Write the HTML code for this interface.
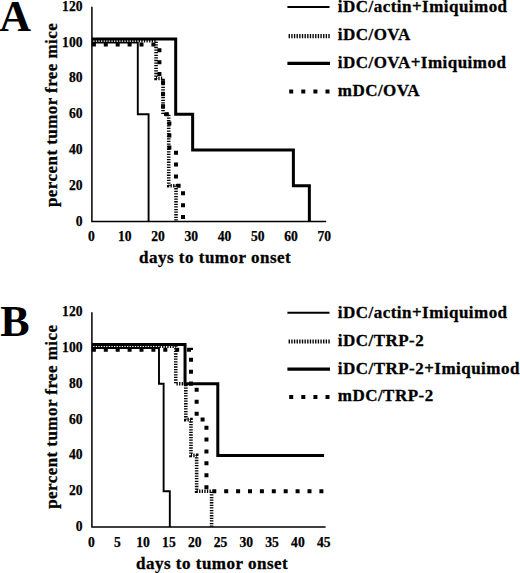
<!DOCTYPE html>
<html><head><meta charset="utf-8"><style>
html,body{margin:0;padding:0;background:#fff;}
svg{display:block;}
.t{font-family:"Liberation Serif",serif;font-weight:bold;font-size:13.6px;fill:#000;stroke:#000;stroke-width:0.25px;}
.m{font-family:"Liberation Serif",serif;font-weight:bold;font-size:17px;letter-spacing:0.5px;fill:#000;stroke:#000;stroke-width:0.3px;}
.L{font-family:"Liberation Serif",serif;font-weight:bold;font-size:44px;fill:#000;}
</style></head><body>
<svg width="520" height="573" viewBox="0 0 520 573">
<rect width="520" height="573" fill="#fff"/>
<path d="M91.90,6.80 L91.90,221.60 L326.15,221.60" fill="none" stroke="#000" stroke-width="1.5"/>
<path d="M91.90,40.81 L156.07,40.81 L156.07,78.40 L163.06,78.40 L163.06,114.20 L168.71,114.20 L168.71,185.80 L176.02,185.80 L176.02,221.60" fill="none" stroke="#000" stroke-width="3.6" stroke-dasharray="1.3 1.3"/>
<path d="M91.90,42.60 L137.79,42.60 L137.79,114.20 L148.59,114.20 L148.59,221.60" fill="none" stroke="#000" stroke-width="1.9"/>
<path d="M91.90,39.02 L175.69,39.02 L175.69,114.20 L192.65,114.20 L192.65,150.00 L293.39,150.00 L293.39,185.80 L309.36,185.80 L309.36,221.60" fill="none" stroke="#000" stroke-width="3"/>
<path d="M91.90,44.39 L159.40,44.39 L159.40,78.40 L163.06,78.40 L163.06,114.20 L169.37,114.20 L169.37,150.00 L176.02,150.00 L176.02,185.80 L183.00,185.80 L183.00,221.60" fill="none" stroke="#000" stroke-width="4" stroke-dasharray="4 7.9"/>
<text x="82.5" y="225.50" text-anchor="end" class="t">0</text>
<text x="82.5" y="189.70" text-anchor="end" class="t">20</text>
<text x="82.5" y="153.90" text-anchor="end" class="t">40</text>
<text x="82.5" y="118.10" text-anchor="end" class="t">60</text>
<text x="82.5" y="82.30" text-anchor="end" class="t">80</text>
<text x="82.5" y="46.50" text-anchor="end" class="t">100</text>
<text x="82.5" y="10.70" text-anchor="end" class="t">120</text>
<text x="91.50" y="241.30" text-anchor="middle" class="t">0</text>
<text x="124.75" y="241.30" text-anchor="middle" class="t">10</text>
<text x="158.00" y="241.30" text-anchor="middle" class="t">20</text>
<text x="191.25" y="241.30" text-anchor="middle" class="t">30</text>
<text x="224.50" y="241.30" text-anchor="middle" class="t">40</text>
<text x="257.75" y="241.30" text-anchor="middle" class="t">50</text>
<text x="291.00" y="241.30" text-anchor="middle" class="t">60</text>
<text x="324.25" y="241.30" text-anchor="middle" class="t">70</text>
<text transform="translate(56.8,114.90) rotate(-90)" text-anchor="middle" class="m" style="letter-spacing:0.44px">percent tumor free mice</text>
<text x="139.00" y="263.20" class="m">days to tumor onset</text>
<path d="M287.4,7.00 L329.5,7.00" fill="none" stroke="#000" stroke-width="2"/>
<text x="337.8" y="11.90" class="m" style="letter-spacing:0.47px">iDC/actin+Imiquimod</text>
<path d="M288.6,36.20 L330.5,36.20" fill="none" stroke="#000" stroke-width="4.2" stroke-dasharray="1.35 1.3"/>
<text x="337.8" y="39.85" class="m" style="letter-spacing:0.47px">iDC/OVA</text>
<path d="M287.4,63.40 L330,63.40" fill="none" stroke="#000" stroke-width="3.2"/>
<text x="337.8" y="67.80" class="m" style="letter-spacing:0.47px">iDC/OVA+Imiquimod</text>
<path d="M289.2,91.50 L330,91.50" fill="none" stroke="#000" stroke-width="4" stroke-dasharray="4 8.1"/>
<text x="337.8" y="95.75" class="m" style="letter-spacing:0.47px">mDC/OVA</text>
<text x="-0.80" y="30.90" class="L">A</text>
<path d="M91.90,312.20 L91.90,527.00 L325.60,527.00" fill="none" stroke="#000" stroke-width="1.5"/>
<path d="M91.90,346.21 L175.75,346.21 L175.75,383.80 L185.81,383.80 L185.81,419.60 L190.97,419.60 L190.97,455.40 L196.65,455.40 L196.65,491.20 L211.61,491.20 L211.61,527.00" fill="none" stroke="#000" stroke-width="3.6" stroke-dasharray="1.3 1.3"/>
<path d="M91.90,348.00 L158.98,348.00 L158.98,383.80 L163.62,383.80 L163.62,491.20 L169.82,491.20 L169.82,527.00" fill="none" stroke="#000" stroke-width="1.9"/>
<path d="M91.90,344.42 L185.04,344.42 L185.04,383.80 L217.80,383.80 L217.80,455.40 L324.10,455.40" fill="none" stroke="#000" stroke-width="3"/>
<path d="M91.90,349.79 L190.97,349.79 L190.97,383.80 L196.65,383.80 L196.65,419.60 L206.45,419.60 L206.45,491.20 L324.10,491.20" fill="none" stroke="#000" stroke-width="4" stroke-dasharray="4 7.9"/>
<text x="82.5" y="530.90" text-anchor="end" class="t">0</text>
<text x="82.5" y="495.10" text-anchor="end" class="t">20</text>
<text x="82.5" y="459.30" text-anchor="end" class="t">40</text>
<text x="82.5" y="423.50" text-anchor="end" class="t">60</text>
<text x="82.5" y="387.70" text-anchor="end" class="t">80</text>
<text x="82.5" y="351.90" text-anchor="end" class="t">100</text>
<text x="82.5" y="316.10" text-anchor="end" class="t">120</text>
<text x="91.50" y="547.30" text-anchor="middle" class="t">0</text>
<text x="117.30" y="547.30" text-anchor="middle" class="t">5</text>
<text x="143.10" y="547.30" text-anchor="middle" class="t">10</text>
<text x="168.90" y="547.30" text-anchor="middle" class="t">15</text>
<text x="194.70" y="547.30" text-anchor="middle" class="t">20</text>
<text x="220.50" y="547.30" text-anchor="middle" class="t">25</text>
<text x="246.30" y="547.30" text-anchor="middle" class="t">30</text>
<text x="272.10" y="547.30" text-anchor="middle" class="t">35</text>
<text x="297.90" y="547.30" text-anchor="middle" class="t">40</text>
<text x="323.70" y="547.30" text-anchor="middle" class="t">45</text>
<text transform="translate(56.8,416.70) rotate(-90)" text-anchor="middle" class="m" style="letter-spacing:0.44px">percent tumor free mice</text>
<text x="136.00" y="568.70" class="m">days to tumor onset</text>
<path d="M287.4,312.70 L329.5,312.70" fill="none" stroke="#000" stroke-width="2"/>
<text x="337.8" y="317.60" class="m" style="letter-spacing:0.47px">iDC/actin+Imiquimod</text>
<path d="M288.6,341.50 L330.5,341.50" fill="none" stroke="#000" stroke-width="4.2" stroke-dasharray="1.35 1.3"/>
<text x="337.8" y="345.55" class="m" style="letter-spacing:0.47px">iDC/TRP-2</text>
<path d="M287.4,369.20 L330,369.20" fill="none" stroke="#000" stroke-width="3.2"/>
<text x="337.8" y="373.50" class="m" style="letter-spacing:0.47px">iDC/TRP-2+Imiquimod</text>
<path d="M289.2,397.00 L330,397.00" fill="none" stroke="#000" stroke-width="4" stroke-dasharray="4 8.1"/>
<text x="337.8" y="401.45" class="m" style="letter-spacing:0.47px">mDC/TRP-2</text>
<text x="0.30" y="336.20" class="L">B</text>
</svg>
</body></html>
